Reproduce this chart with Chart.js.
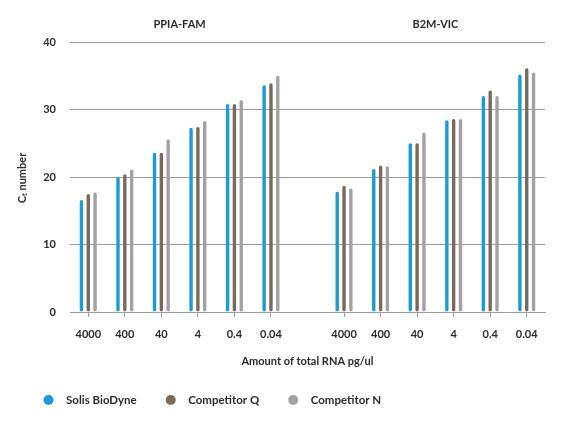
<!DOCTYPE html>
<html>
<head>
  <meta charset="UTF-8" />
  <title>Ct number by RNA amount</title>
  <script src="https://cdn.jsdelivr.net/npm/chart.js"></script>
  <style>
    body {
      margin: 0;
      background-color: #fff;
    }

    #chartContainer {
      width: 569px;
      height: 424px;
    }
  </style>
</head>
<body>

  <div id="chartContainer">
    <canvas id="ctChart"></canvas>
  </div>

  <script>
    // amounts of total RNA, pg/ul
    const concentrations = ['4000', '400', '40', '4', '0.4', '0.04'];
    const panelTitles = ['PPIA-FAM', 'B2M-VIC'];
    const seriesNames = ['Solis BioDyne', 'Competitor Q', 'Competitor N'];
    const seriesColors = ['#1b9bd7', '#7a6a5c', '#a2a2a5'];

    const ppiaSolis = [16.6, 20.0, 23.6, 27.3, 30.8, 33.6];
    const ppiaQ     = [17.5, 20.4, 23.6, 27.4, 30.8, 33.9];
    const ppiaN     = [17.7, 21.1, 25.6, 28.3, 31.4, 35.0];

    const b2mSolis  = [17.8, 21.2, 25.0, 28.4, 32.0, 35.2];
    const b2mQ      = [18.7, 21.7, 25.0, 28.6, 32.8, 36.1];
    const b2mN      = [18.3, 21.6, 26.6, 28.6, 32.0, 35.5];

    const yTicks = [0, 10, 20, 30, 40];

    // one empty slot between the two panels
    const labels = [...concentrations, '', ...concentrations];
    const join = (a, b) => [...a, null, ...b];
    const seriesData = [join(ppiaSolis, b2mSolis), join(ppiaQ, b2mQ), join(ppiaN, b2mN)];

    const textColor = '#2b2b2b';
    const gridColor = '#9c9c9c';
    const font = 'Lato';

    // panel titles, axis titles and the legend row drawn by hand
    const annotations = {
      id: 'annotations',
      afterDraw(chart) {
        const c = chart.ctx;
        const x = chart.scales.x;
        const area = chart.chartArea;
        c.save();
        c.fillStyle = textColor;
        c.textAlign = 'center';
        c.textBaseline = 'middle';
        c.font = `bold 11px ${font}`;
        const mid = (i) => (x.getPixelForTick(i) + x.getPixelForTick(i + 1)) / 2;
        c.fillText(panelTitles[0], mid(2), 24);
        c.fillText(panelTitles[1], mid(9), 24);

        c.font = `bold 11px ${font}`;
        c.fillText('Amount of total RNA pg/ul', (area.left + area.right) / 2, 361);

        // legend
        c.textAlign = 'left';
        c.font = `bold 11.5px ${font}`;
        let lx = 48.5;
        seriesNames.forEach((name, i) => {
          c.fillStyle = seriesColors[i];
          c.beginPath();
          c.arc(lx, 400, 5, 0, Math.PI * 2);
          c.fill();
          c.fillStyle = textColor;
          c.fillText(name, lx + 17.5, 400);
          lx += 17.5 + c.measureText(name).width + 34;
        });

        // Ct number, rotated
        c.translate(22, 178);
        c.rotate(-Math.PI / 2);
        c.font = `bold 11px ${font}`;
        const w1 = c.measureText('C').width;
        c.font = `bold 7.5px ${font}`;
        const w2 = c.measureText('t').width;
        c.font = `bold 11px ${font}`;
        const w3 = c.measureText(' number').width;
        let px = -(w1 + w2 + w3) / 2;
        c.fillText('C', px, 0);
        px += w1;
        c.font = `bold 7.5px ${font}`;
        c.fillText('t', px, 3);
        px += w2;
        c.font = `bold 11px ${font}`;
        c.fillText(' number', px, 0);
        c.restore();
      }
    };

    const ctx = document.getElementById('ctChart').getContext('2d');
    const chart = new Chart(ctx, {
      type: 'bar',
      data: {
        labels: labels,
        datasets: seriesNames.map((name, i) => ({
          label: name,
          data: seriesData[i],
          backgroundColor: seriesColors[i],
          borderRadius: 2,
          borderSkipped: false,
          categoryPercentage: 0.56,
          barPercentage: 0.5,
        }))
      },
      options: {
        responsive: true,
        maintainAspectRatio: false,
        animation: false,
        layout: {
          padding: { top: 42, left: 21, right: 24, bottom: 50 }
        },
        plugins: {
          tooltip: { enabled: false },
          legend: { display: false }
        },
        scales: {
          x: {
            afterFit: (scale) => { scale.height = 62; },
            grid: {
              offset: false,
              drawOnChartArea: false,
              drawTicks: true,
              tickLength: 5,
              tickColor: (c) => (c.index === 6 ? 'rgba(0,0,0,0)' : gridColor)
            },
            border: { display: true, color: gridColor, width: 1 },
            ticks: {
              padding: 11,
              color: textColor,
              maxRotation: 0,
              autoSkip: false,
              font: { family: font, size: 11, weight: 'bold' }
            }
          },
          y: {
            min: 0,
            max: 40,
            afterFit: (scale) => { scale.width = 49; },
            afterBuildTicks: (scale) => { scale.ticks = yTicks.map(v => ({ value: v })); },
            grid: {
              color: gridColor,
              lineWidth: 1,
              drawTicks: false
            },
            border: { display: false },
            ticks: {
              padding: 14,
              color: textColor,
              font: { family: font, size: 11, weight: 'bold' }
            }
          }
        }
      },
      plugins: [annotations]
    });
  </script>
</body>
</html>
